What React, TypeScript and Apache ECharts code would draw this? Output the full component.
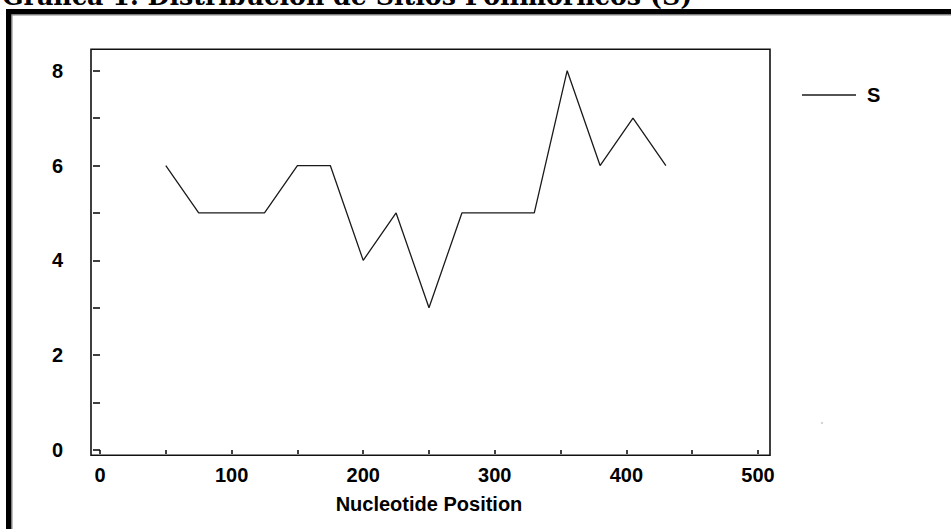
import React, { useEffect, useRef } from "react";
import * as echarts from "echarts";

const positions = [50, 75, 100, 125, 150, 175, 200, 225, 250, 275, 300, 330, 355, 380, 405, 430];
const sValues = [6, 5, 5, 5, 6, 6, 4, 5, 3, 5, 5, 5, 8, 6, 7, 6];
const seriesName = "S";
const titleText = "Gráfica 1. Distribución de Sitios Polimórficos (S)";
const xAxisTitle = "Nucleotide Position";

export default function App() {
  const ref = useRef<HTMLDivElement>(null);
  useEffect(() => {
    document.body.style.margin = "0";
    const chart = echarts.init(ref.current!, null, { renderer: "svg" });
    const labelFont = { fontFamily: "Liberation Sans, Arial, sans-serif", fontWeight: "bold", fontSize: 20, color: "#000" };
    chart.setOption({
      animation: false,
      backgroundColor: "#fff",
      title: {
        text: titleText,
        left: 2,
        top: -17,
        padding: 0,
        textStyle: { fontFamily: "DejaVu Serif, serif", fontWeight: "bold", fontSize: 25.3, color: "#000" },
      },
      grid: { left: 100, top: 70.7, width: 658, height: 379.3, containLabel: false },
      legend: {
        data: [{ name: seriesName, icon: "rect" }],
        left: 802,
        top: 85,
        padding: 0,
        itemWidth: 54,
        itemHeight: 1.5,
        selectedMode: false,
        textStyle: { ...labelFont, padding: [0, 0, 0, 6] },
      },
      xAxis: {
        type: "value",
        min: 0,
        max: 500,
        interval: 50,
        offset: 5,
        axisLine: { show: false },
        axisTick: { show: true, length: 4, lineStyle: { color: "#000", width: 1.5 } },
        splitLine: { show: false },
        axisLabel: { ...labelFont, margin: 10, formatter: (v: number) => (v % 100 === 0 ? String(v) : "") },
        name: xAxisTitle,
        nameLocation: "middle",
        nameGap: 39,
        nameTextStyle: { ...labelFont },
      },
      yAxis: {
        type: "value",
        min: 0,
        max: 8,
        interval: 1,
        offset: 9,
        axisLine: { show: false },
        axisTick: { show: true, length: 7, lineStyle: { color: "#000", width: 1.5 } },
        splitLine: { show: false },
        axisLabel: { ...labelFont, margin: 28, formatter: (v: number) => (v % 2 === 0 ? String(v) : "") },
      },
      graphic: [
        { type: "rect", shape: { x: 6, y: 9, width: 945, height: 5.5 }, style: { fill: "#000" } },
        { type: "rect", shape: { x: 6, y: 9, width: 5.5, height: 520 }, style: { fill: "#000" } },
        { type: "rect", shape: { x: 11.5, y: 14.5, width: 940, height: 1 }, style: { fill: "#808080" } },
        { type: "rect", shape: { x: 11.5, y: 14.5, width: 1, height: 515 }, style: { fill: "#808080" } },
        { type: "rect", shape: { x: 91, y: 49.3, width: 679, height: 406 }, style: { fill: "none", stroke: "#111", lineWidth: 1.6 } },
        { type: "rect", shape: { x: 821.5, y: 422.5, width: 1, height: 1 }, style: { fill: "#555" } },
      ],
      series: [
        {
          name: seriesName,
          type: "line",
          data: positions.map((p, i) => [p, sValues[i]]),
          symbol: "none",
          lineStyle: { color: "#1a1a1a", width: 1.3 },
          itemStyle: { color: "#1a1a1a" },
        },
      ],
    });
    return () => chart.dispose();
  }, []);
  return <div ref={ref} style={{ position: "fixed", left: 0, top: 0, width: 951, height: 529, background: "#fff" }} />;
}
